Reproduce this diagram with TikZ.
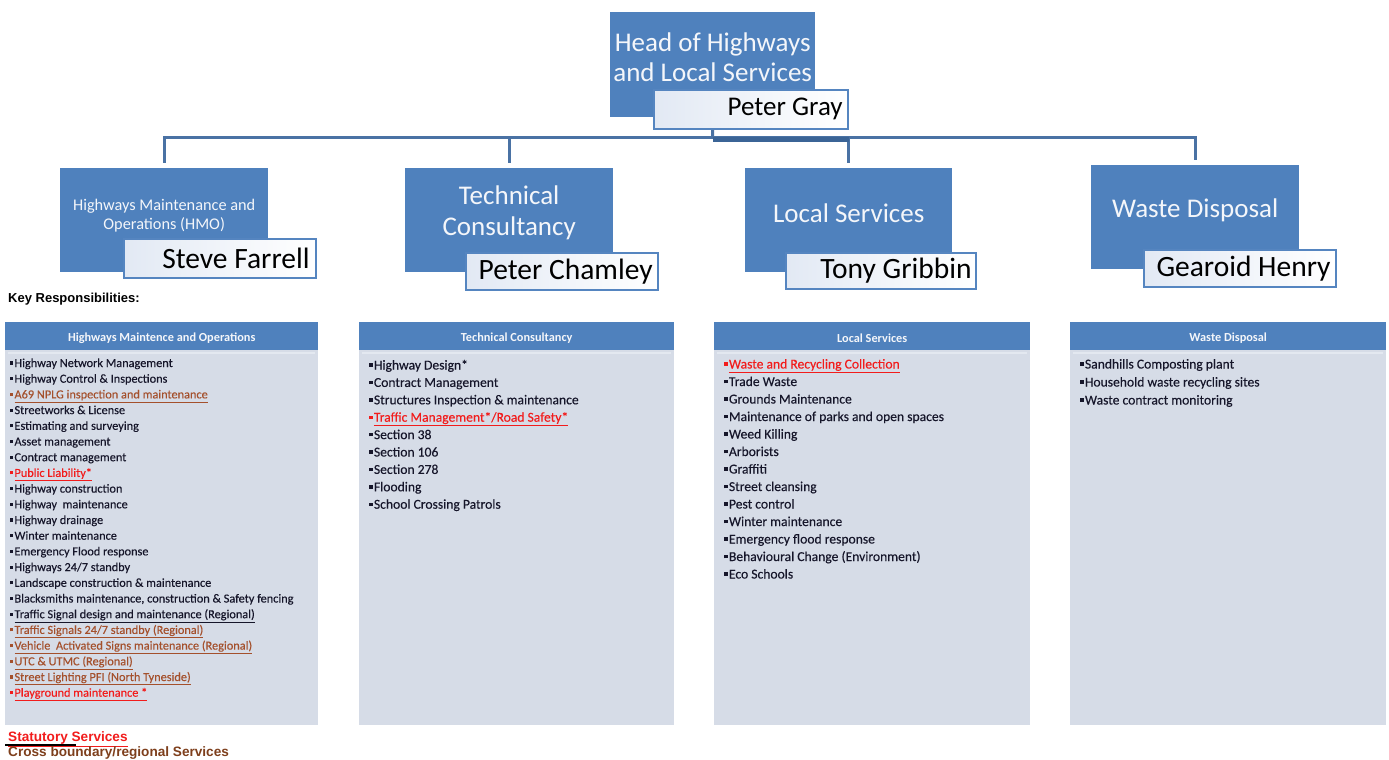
\documentclass[tikz,border=0pt]{standalone}
\usepackage{fontspec}
\setmainfont{Carlito}
\newfontfamily\arialfont{Liberation Sans}
\newfontfamily\listfont{Carlito}[FakeBold=0.25]

\definecolor{boxblue}{HTML}{4F81BD}
\definecolor{nameedge}{HTML}{5585C0}
\definecolor{namefill}{HTML}{E2E9F4}
\definecolor{connblue}{HTML}{4A72A4}
\definecolor{conndark}{HTML}{3B6496}
\definecolor{panelbg}{HTML}{D6DCE7}
\definecolor{panelline}{HTML}{E3E8F0}
\definecolor{titlewhite}{HTML}{F4F6FA}
\definecolor{itemtext}{HTML}{16162A}
\definecolor{brn}{HTML}{A4502C}
\definecolor{hotred}{HTML}{F21C1C}
\definecolor{legbrown}{HTML}{7E3F1C}

% list entries: plain, underlined, brown (regional), red (statutory)
\newcommand\blt{\rule[0.2em]{0.25em}{0.25em}\hspace{0.1em}}
\newcommand\liP[1]{\blt#1}
\newcommand\liU[1]{\blt\underline{#1}}
\newcommand\liB[1]{\color{brn}\blt\underline{#1}}
\newcommand\liR[1]{\color{hotred}\blt\underline{#1}}

\begin{document}
\begin{tikzpicture}[x=1pt,y=-1pt,
  unit/.style={fill=boxblue, draw=none, anchor=north west, inner sep=0pt},
  unittitle/.style={text=titlewhite, align=center, inner sep=0pt},
  namebox/.style={draw=nameedge, line width=1.8pt, left color=namefill, right color=white,
    anchor=north west, inner sep=0pt},
  nametext/.style={anchor=east, inner sep=0pt, text=black},
  conn/.style={draw=connblue, line width=3pt},
  busdark/.style={draw=conndark, line width=5pt},
  phead/.style={fill=boxblue, text=titlewhite, anchor=north west, inner sep=0pt,
    minimum height=28pt, text depth=0pt, font=\bfseries\fontsize{12.3}{14}\selectfont},
  pheadtext/.style={text=titlewhite, inner sep=0pt, font=\bfseries\fontsize{12.3}{14}\selectfont},
  pbody/.style={fill=panelbg, anchor=north west, inner sep=0pt, minimum height=375pt},
  hline/.style={draw=panelline, line width=1.5pt},
  item/.style={anchor=base west, inner sep=0pt, text=itemtext},
  keytext/.style={anchor=base west, inner sep=0pt, font=\arialfont\bfseries\fontsize{13}{15}\selectfont},
  legtext/.style={anchor=base west, inner sep=0pt, font=\arialfont\bfseries\fontsize{13.6}{15}\selectfont}
]
\useasboundingbox (0,0) rectangle (1389,760);
\fill[white] (0,0) rectangle (1389,760);

% ---- organisation units ----
\node[unit, minimum width=205pt, minimum height=105pt] (head) at (610,12) {};
\node[unit, minimum width=208pt, minimum height=104pt] (hmo) at (60,168) {};
\node[unit, minimum width=208pt, minimum height=104pt] (tech) at (405,168) {};
\node[unit, minimum width=207pt, minimum height=104pt] (local) at (745,168) {};
\node[unit, minimum width=208pt, minimum height=104pt] (waste) at (1091,165) {};

% ---- reporting lines ----
\coordinate (bus) at (712.5,137);
\draw[conn] (head.south) -- (bus);
\draw[conn, shorten >=5pt] (bus) -| (hmo.north);
\draw[conn, shorten >=5pt] (bus) -| (tech.north);
\draw[conn, shorten >=5pt] (bus) -| (local.north);
\draw[conn, shorten >=5pt] (bus) -| (waste.north);
\draw[busdark] ([yshift=-2pt]bus) -- ([yshift=-2pt]bus -| local.north);

% ---- unit titles ----
\node[unittitle, font=\fontsize{27}{30}\selectfont] (headT) at ([yshift=7.5pt]head.center)
  {Head of Highways\\and Local Services};
\node[unittitle, font=\fontsize{16.3}{19}\selectfont] (hmoT) at ([yshift=5pt]hmo.center)
  {Highways Maintenance and\\Operations (HMO)};
\node[unittitle, font=\fontsize{27}{31}\selectfont] (techT) at ([yshift=7.5pt]tech.center)
  {Technical\\Consultancy};
\node[unittitle, font=\fontsize{27}{31}\selectfont] (localT) at ([yshift=7pt]local.center)
  {Local Services};
\node[unittitle, font=\fontsize{27}{31}\selectfont] (wasteT) at ([yshift=7pt]waste.center)
  {Waste Disposal};

% ---- post holders ----
\node[namebox, minimum width=194pt, minimum height=39pt] (headN) at (653,89) {};
\node[namebox, minimum width=192pt, minimum height=39pt] (hmoN) at (123,238) {};
\node[namebox, minimum width=192pt, minimum height=37pt] (techN) at (465,252) {};
\node[namebox, minimum width=190pt, minimum height=36pt] (localN) at (785,252) {};
\node[namebox, minimum width=192pt, minimum height=37pt] (wasteN) at (1143,249) {};
\node[nametext, font=\fontsize{27}{30}\selectfont] (headNT) at ([xshift=-6pt]headN.east) {Peter Gray};
\node[nametext, font=\fontsize{29.5}{32}\selectfont] (hmoNT) at ([xshift=-7pt]hmoN.east) {Steve Farrell};
\node[nametext, font=\fontsize{29.5}{32}\selectfont] (techNT) at ([xshift=-6pt]techN.east) {Peter Chamley};
\node[nametext, font=\fontsize{29.5}{32}\selectfont] (localNT) at ([xshift=-5pt]localN.east) {Tony Gribbin};
\node[nametext, font=\fontsize{29.5}{32}\selectfont] (wasteNT) at ([xshift=-6pt]wasteN.east) {Gearoid Henry};

\node[keytext] (keyhead) at (8,302.5) {Key Responsibilities:};

% ---- responsibility panels ----
\node[pbody, minimum width=313pt] (p1b) at (5,350) {};
\node[pbody, minimum width=315pt] (p2b) at (359,350) {};
\node[pbody, minimum width=316pt] (p3b) at (714,350) {};
\node[pbody, minimum width=316pt] (p4b) at (1070,350) {};
\node[phead, minimum width=313pt] (p1h) at (5,322) {};
\node[phead, minimum width=315pt] (p2h) at (359,322) {};
\node[phead, minimum width=316pt] (p3h) at (714,322) {};
\node[phead, minimum width=316pt] (p4h) at (1070,322) {};
\node[pheadtext] (p1t) at ([yshift=-2pt]p1h.center) {Highways Maintence and Operations};
\node[pheadtext] (p2t) at ([yshift=-2pt]p2h.center) {Technical Consultancy};
\node[pheadtext] (p3t) at ([yshift=-2pt]p3h.center) {Local Services};
\node[pheadtext] (p4t) at ([yshift=-2pt]p4h.center) {Waste Disposal};
\foreach \p in {p1b,p2b,p3b,p4b}
  \draw[hline] ([xshift=3pt,yshift=-3pt]\p.north west) -- ([xshift=-3pt,yshift=-3pt]\p.north east);

\begin{scope}[font=\listfont\fontsize{12.3}{14}\selectfont]
\foreach \t [count=\i] in {
  {\liP{Highway Network Management}},
  {\liP{Highway Control \& Inspections}},
  {\liB{A69 NPLG inspection and maintenance}},
  {\liP{Streetworks \& License}},
  {\liP{Estimating and surveying}},
  {\liP{Asset management}},
  {\liP{Contract management}},
  {\liR{Public Liability*}},
  {\liP{Highway construction}},
  {\liP{Highway~ maintenance}},
  {\liP{Highway drainage}},
  {\liP{Winter maintenance}},
  {\liP{Emergency Flood response}},
  {\liP{Highways 24/7 standby}},
  {\liP{Landscape construction \& maintenance}},
  {\liP{Blacksmiths maintenance, construction \& Safety fencing}},
  {\liU{Traffic Signal design and maintenance (Regional)}},
  {\liB{Traffic Signals 24/7 standby (Regional)}},
  {\liB{Vehicle~ Activated Signs maintenance (Regional)}},
  {\liB{UTC \& UTMC (Regional)}},
  {\liB{Street Lighting PFI (North Tyneside)}},
  {\liR{Playground maintenance *}}}
  \node[item] (hmoItem\i) at (10,{367+(\i-1)*15.7}) {\t};
\end{scope}

\begin{scope}[font=\listfont\fontsize{13.6}{16}\selectfont]
\foreach \t [count=\i] in {
  {\liP{Highway Design*}},
  {\liP{Contract Management}},
  {\liP{Structures Inspection \& maintenance}},
  {\liR{Traffic Management*/Road Safety*}},
  {\liP{Section 38}},
  {\liP{Section 106}},
  {\liP{Section 278}},
  {\liP{Flooding}},
  {\liP{School Crossing Patrols}}}
  \node[item] (techItem\i) at (369,{369.5+(\i-1)*17.4}) {\t};

\foreach \t [count=\i] in {
  {\liR{Waste and Recycling Collection}},
  {\liP{Trade Waste}},
  {\liP{Grounds Maintenance}},
  {\liP{Maintenance of parks and open spaces}},
  {\liP{Weed Killing}},
  {\liP{Arborists}},
  {\liP{Graffiti}},
  {\liP{Street cleansing}},
  {\liP{Pest control}},
  {\liP{Winter maintenance}},
  {\liP{Emergency flood response}},
  {\liP{Behavioural Change (Environment)}},
  {\liP{Eco Schools}}}
  \node[item] (localItem\i) at (724,{368.5+(\i-1)*17.5}) {\t};

\foreach \t [count=\i] in {
  {\liP{Sandhills Composting plant}},
  {\liP{Household waste recycling sites}},
  {\liP{Waste contract monitoring}}}
  \node[item] (wasteItem\i) at (1080,{368.5+(\i-1)*18}) {\t};
\end{scope}

% ---- key ----
\node[legtext, text=hotred] (legStat) at (8,741.5) {\underline{Statutory Services}};
\node[legtext, text=legbrown] (legReg) at (8,756.5) {Cross boundary/regional Services};
\coordinate (markA) at (5,745);
\coordinate (markB) at (76,745);
\draw[line width=2.5pt, black] (markA) -- (markB);
\end{tikzpicture}
\end{document}
